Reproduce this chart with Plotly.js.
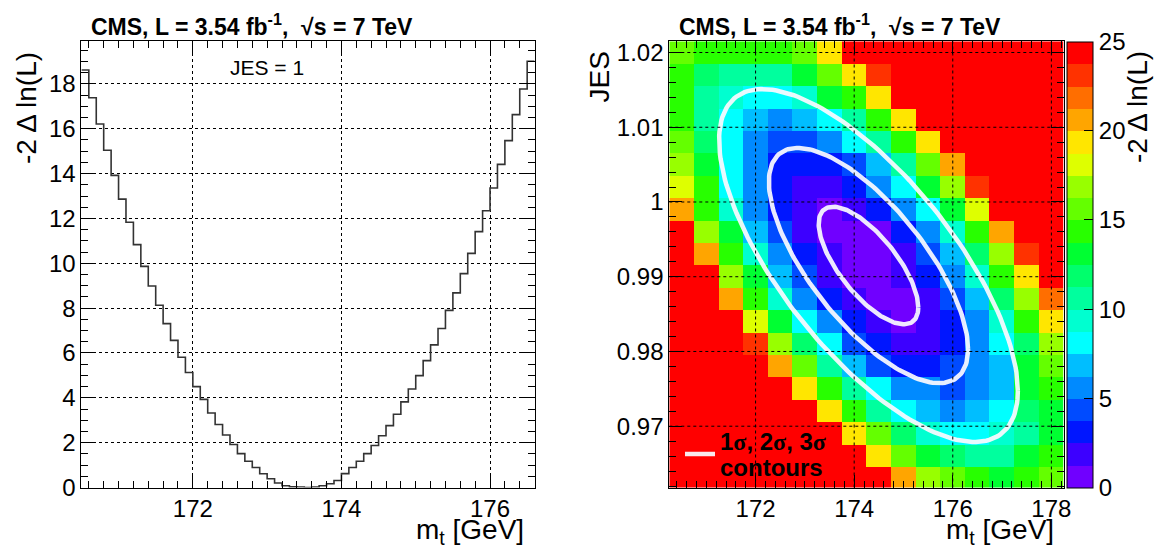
<!DOCTYPE html>
<html>
<head>
<meta charset="utf-8">
<script src="https://cdn.plot.ly/plotly-3.0.1.min.js"></script>
<style>
html,body{margin:0;padding:0;background:#ffffff;}
#chart{width:1161px;height:549px;}
</style>
</head>
<body>
<div id="chart"></div>
<script>
// ---------- Left panel: -2 Delta ln(L) profile at JES = 1 ----------
const profileFirstEdge = 170.5;     // GeV, low edge of first bin
const profileBinWidth = 0.1;        // GeV
const profileValues = [
  18.62, 17.38, 16.21, 15.04, 13.92, 12.86, 11.83, 10.83, 9.86, 8.99,
  8.13, 7.31, 6.56, 5.81, 5.13, 4.50, 3.93, 3.32, 2.81, 2.34,
  1.92, 1.51, 1.17, 0.89, 0.61, 0.39, 0.20, 0.08, 0.03, 0.02,
  0.00, 0.02, 0.08, 0.17, 0.31, 0.62, 0.89, 1.17, 1.51, 1.87,
  2.31, 2.76, 3.27, 3.82, 4.39, 4.99, 5.66, 6.36, 7.09, 7.90,
  8.68, 9.54, 10.44, 11.41, 12.34, 13.36, 14.41, 15.47, 16.63, 17.77,
  19.01
];

// ---------- Right panel: 2D scan in (m_t, JES) ----------
const mtCenters = [170.5,171.0,171.5,172.0,172.5,173.0,173.5,174.0,174.5,175.0,175.5,176.0,176.5,177.0,177.5,178.0];
const jesCenters = [0.963,0.966,0.969,0.972,0.975,0.978,0.981,0.984,0.987,0.990,0.993,0.996,0.999,1.002,1.005,1.008,1.011,1.014,1.017,1.020];
// rows follow jesCenters (bottom to top); 26 = above the colour range (red)
const nllGrid = [
  [26,26,26,26,26,26,26,26,26,20.6,16.9,15.6,14.4,13.1,14.4,15.6],
  [26,26,26,26,26,26,26,26,19.4,15.6,13.1,11.9,10.6,10.6,13.1,14.4],
  [26,26,26,26,26,26,26,19.4,15.6,11.9,9.4,8.1,8.1,9.4,10.6,13.1],
  [26,26,26,26,26,26,19.4,14.4,10.6,8.1,6.9,5.6,6.9,8.1,11.9,13.1],
  [26,26,26,26,26,19.4,14.4,10.6,8.1,5.6,5.6,4.4,5.6,6.9,13.1,14.4],
  [26,26,26,26,20.6,15.6,10.6,6.9,4.4,3.1,3.1,4.4,5.6,6.9,13.1,15.6],
  [26,26,26,23.1,16.9,11.9,8.1,4.4,3.1,1.9,1.9,3.1,5.6,8.1,11.9,16.9],
  [26,26,26,18.1,13.1,8.1,5.6,3.1,1.9,0.6,1.9,3.1,5.6,9.4,14.4,19.4],
  [26,26,20.6,14.4,9.4,5.6,3.1,1.9,0.6,0.6,1.9,4.4,6.9,11.9,16.9,21.9],
  [26,26,16.9,13.1,6.9,4.4,1.9,0.6,0.6,1.9,3.1,5.6,9.4,14.4,19.4,26],
  [26,20.6,14.4,9.4,5.6,3.1,1.9,0.6,0.6,1.9,4.4,6.9,11.9,16.9,23.1,26],
  [26,16.9,13.1,6.9,4.4,1.9,0.6,0.6,0.6,3.1,5.6,9.4,14.4,20.6,26,26],
  [20.6,14.4,9.4,5.6,3.1,1.9,0.6,1.9,3.1,5.6,8.1,13.1,18.1,26,26,26],
  [18.1,14.4,8.1,5.6,3.1,1.9,1.9,3.1,5.6,8.1,13.1,16.9,23.1,26,26,26],
  [16.9,13.1,8.1,5.6,3.1,3.1,3.1,4.4,6.9,10.6,15.6,20.6,26,26,26,26],
  [15.6,11.9,8.1,5.6,4.4,4.4,5.6,8.1,10.6,14.4,19.4,26,26,26,26,26],
  [14.4,10.6,8.1,6.9,5.6,6.9,8.1,10.6,14.4,19.4,26,26,26,26,26,26],
  [14.4,10.6,9.4,8.1,8.1,9.4,13.1,14.4,19.4,26,26,26,26,26,26,26],
  [14.4,11.9,10.6,10.6,10.6,13.1,15.6,19.4,23.1,26,26,26,26,26,26,26],
  [15.6,14.4,14.4,14.4,14.4,15.6,19.4,26,26,26,26,26,26,26,26,26]
];

// fitted 1, 2, 3 sigma contour ellipses
const contourCenterMt = 174.29;
const contourCenterJes = 0.9915;
const contourSigmaMt = 1.01;
const contourSigmaJes = 0.00787;
const contourRho = -0.71;
const contourNSigma = [1, 2, 3];
const contourLegendLines = ['1<span style="font-family:Liberation Serif">σ</span>, 2<span style="font-family:Liberation Serif">σ</span>, 3<span style="font-family:Liberation Serif">σ</span>', 'contours'];

// colour palette of the z axis (20 bands from 0 to 25)
const zMin = 0, zMax = 25;
const paletteColors = [
  'rgb(112,0,255)','rgb(60,0,255)','rgb(0,22,255)','rgb(0,75,255)','rgb(0,138,255)',
  'rgb(0,190,255)','rgb(0,255,255)','rgb(0,255,208)','rgb(0,255,158)','rgb(0,255,108)',
  'rgb(0,255,50)','rgb(40,255,0)','rgb(100,255,0)','rgb(152,255,0)','rgb(222,255,0)',
  'rgb(255,230,0)','rgb(255,165,0)','rgb(255,110,0)','rgb(255,50,0)','rgb(255,0,0)'
];

// axis ticks
const leftXTicks = [172, 174, 176];
const leftYTicks = [0, 2, 4, 6, 8, 10, 12, 14, 16, 18];
const rightXTicks = [172, 174, 176, 178];
const rightYTicks = [0.97, 0.98, 0.99, 1.00, 1.01, 1.02];
const rightYTickText = ['0.97', '0.98', '0.99', '1', '1.01', '1.02'];
const zTicks = [0, 5, 10, 15, 20, 25];

// ---------- build traces ----------
const FONT = 'Liberation Sans, Arial, Helvetica, sans-serif';

const stepX = profileValues.map((_, i) => +(profileFirstEdge + i * profileBinWidth).toFixed(2));
stepX.push(+(profileFirstEdge + profileValues.length * profileBinWidth).toFixed(2));
const stepY = profileValues.slice();
stepY.push(profileValues[profileValues.length - 1]);

const profileTrace = {
  type: 'scatter', mode: 'lines', x: stepX, y: stepY,
  line: {shape: 'hv', color: '#333333', width: 1.6},
  xaxis: 'x', yaxis: 'y', showlegend: false, hoverinfo: 'x+y'
};

const nb = paletteColors.length;
const colorscale = [];
paletteColors.forEach((c, k) => {
  colorscale.push([k / nb, c]);
  colorscale.push([(k + 1) / nb, c]);
});

const W = 1161, H = 549;
const heatTrace = {
  type: 'heatmap', x: mtCenters, y: jesCenters, z: nllGrid,
  zmin: zMin, zmax: zMax, zauto: false, colorscale: colorscale, zsmooth: false,
  xaxis: 'x2', yaxis: 'y2', showlegend: false,
  colorbar: {
    x: 1067 / W, xanchor: 'left', xpad: 0, ypad: 0,
    y: 1 - 487.5 / H, yanchor: 'bottom', len: 446.2 / H, lenmode: 'fraction',
    thickness: 25.5, outlinecolor: 'black', outlinewidth: 1,
    tickvals: zTicks, ticktext: zTicks.map(String), ticks: 'inside', ticklen: 9,
    tickcolor: 'black', tickwidth: 1,
    tickfont: {family: FONT, size: 24, color: 'black'}
  }
};

const ex = [], ey = [];
const nPts = 180;
contourNSigma.forEach(n => {
  for (let i = 0; i <= nPts; i++) {
    const t = 2 * Math.PI * i / nPts;
    ex.push(contourCenterMt + n * contourSigmaMt * Math.cos(t));
    ey.push(contourCenterJes + n * contourSigmaJes *
      (contourRho * Math.cos(t) + Math.sqrt(1 - contourRho * contourRho) * Math.sin(t)));
  }
  ex.push(null); ey.push(null);
});
const contourTrace = {
  type: 'scatter', mode: 'lines', x: ex, y: ey, connectgaps: false,
  line: {color: 'rgba(250,250,255,0.93)', width: 4.5},
  xaxis: 'x2', yaxis: 'y2', showlegend: true,
  name: '\u00a0',
  hoverinfo: 'skip'
};

// ---------- layout ----------
const yDom = [1 - 487.5 / H, 1 - 41.3 / H];
const tickFont = {family: FONT, size: 24, color: 'black'};
const commonAxis = {
  ticks: 'inside', tickcolor: 'black', tickwidth: 1, mirror: 'allticks',
  showline: true, linecolor: 'black', linewidth: 1, zeroline: false,
  tickfont: tickFont, fixedrange: true
};

const gridShapes = [];
rightXTicks.forEach(v => gridShapes.push({
  type: 'line', xref: 'x2', yref: 'y2 domain', x0: v, x1: v, y0: 0, y1: 1,
  line: {color: 'black', width: 1, dash: 'dot'}, layer: 'above'
}));
rightYTicks.forEach(v => gridShapes.push({
  type: 'line', xref: 'x2 domain', yref: 'y2', x0: 0, x1: 1, y0: v, y1: v,
  line: {color: 'black', width: 1, dash: 'dot'}, layer: 'above'
}));

const titleText = '<b>CMS, L = 3.54 fb<sup>-1</sup>,\u00a0\u00a0√s = 7 TeV</b>';
const ytitle = '-2 Δ ln(L)';

const layout = {
  width: W, height: H,
  margin: {l: 0, r: 0, t: 0, b: 0},
  paper_bgcolor: 'white', plot_bgcolor: 'white',
  font: {family: FONT, color: 'black'},
  xaxis: Object.assign({}, commonAxis, {
    domain: [81.4 / W, 534.6 / W], range: [170.5, 176.6], anchor: 'y',
    tickvals: leftXTicks, ticklen: 13,
    showgrid: true, gridcolor: 'black', griddash: 'dot', gridwidth: 1,
    minor: {dtick: 0.2, tick0: 0, ticks: 'inside', ticklen: 7, tickcolor: 'black', showgrid: false}
  }),
  yaxis: Object.assign({}, commonAxis, {
    domain: yDom, range: [0, 19.9], anchor: 'x',
    tickvals: leftYTicks, ticklen: 13,
    showgrid: true, gridcolor: 'black', griddash: 'dot', gridwidth: 1,
    minor: {dtick: 0.5, tick0: 0, ticks: 'inside', ticklen: 7, tickcolor: 'black', showgrid: false}
  }),
  xaxis2: Object.assign({}, commonAxis, {
    domain: [669.3 / W, 1063.7 / W], range: [170.25, 178.25], anchor: 'y2',
    tickvals: rightXTicks, ticklen: 13, showgrid: false,
    minor: {dtick: 0.2, tick0: 0, ticks: 'inside', ticklen: 7, tickcolor: 'black', showgrid: false}
  }),
  yaxis2: Object.assign({}, commonAxis, {
    domain: yDom, range: [0.9618, 1.0215], anchor: 'x2',
    tickvals: rightYTicks, ticktext: rightYTickText, ticklen: 13, showgrid: false,
    minor: {dtick: 0.002, tick0: 0, ticks: 'inside', ticklen: 7, tickcolor: 'black', showgrid: false}
  }),
  shapes: gridShapes,
  showlegend: true,
  legend: {
    x: 680 / W, xanchor: 'left', y: 1 - 454 / H, yanchor: 'middle',
    bgcolor: 'rgba(0,0,0,0)', borderwidth: 0, valign: 'middle',
    font: {family: FONT, size: 20, color: 'black'}, tracegroupgap: 0
  },
  annotations: [
    {xref: 'paper', yref: 'paper', x: 89 / W, y: 1 - 24.5 / H, xanchor: 'left', yanchor: 'middle',
     text: titleText, showarrow: false, font: {family: FONT, size: 23, color: 'black'}},
    {xref: 'paper', yref: 'paper', x: 677 / W, y: 1 - 24.5 / H, xanchor: 'left', yanchor: 'middle',
     text: titleText, showarrow: false, font: {family: FONT, size: 23, color: 'black'}},
    {xref: 'paper', yref: 'paper', x: 267 / W, y: 1 - 67 / H, xanchor: 'center', yanchor: 'middle',
     text: 'JES = 1', showarrow: false, font: {family: FONT, size: 21, color: 'black'}},
    {xref: 'paper', yref: 'paper', x: 27 / W, y: 1 - 50 / H, xanchor: 'center', yanchor: 'top',
     text: ytitle, textangle: -90, showarrow: false, font: {family: FONT, size: 28, color: 'black'}},
    {xref: 'paper', yref: 'paper', x: 599 / W, y: 1 - 50 / H, xanchor: 'center', yanchor: 'top',
     text: 'JES', textangle: -90, showarrow: false, font: {family: FONT, size: 28, color: 'black'}},
    {xref: 'paper', yref: 'paper', x: 1137 / W, y: 1 - 49 / H, xanchor: 'center', yanchor: 'top',
     text: ytitle, textangle: -90, showarrow: false, font: {family: FONT, size: 28, color: 'black'}},
    {xref: 'paper', yref: 'paper', x: 526 / W, y: 1 - 531 / H, xanchor: 'right', yanchor: 'middle',
     text: 'm<sub>t</sub> [GeV]', showarrow: false, font: {family: FONT, size: 28, color: 'black'}},
    {xref: 'paper', yref: 'paper', x: 1056 / W, y: 1 - 531 / H, xanchor: 'right', yanchor: 'middle',
     text: 'm<sub>t</sub> [GeV]', showarrow: false, font: {family: FONT, size: 28, color: 'black'}},
    {xref: 'paper', yref: 'paper', x: 718 / W, y: 1 - 441.5 / H, xanchor: 'left', yanchor: 'middle',
     text: '<b>' + contourLegendLines[0] + '</b>', showarrow: false, font: {family: FONT, size: 24, color: 'black'}},
    {xref: 'paper', yref: 'paper', x: 718 / W, y: 1 - 467.5 / H, xanchor: 'left', yanchor: 'middle',
     text: '<b>' + contourLegendLines[1] + '</b>', showarrow: false, font: {family: FONT, size: 24, color: 'black'}}
  ]
};

Plotly.newPlot('chart', [profileTrace, heatTrace, contourTrace], layout,
  {displayModeBar: false, staticPlot: true});
</script>
</body>
</html>
